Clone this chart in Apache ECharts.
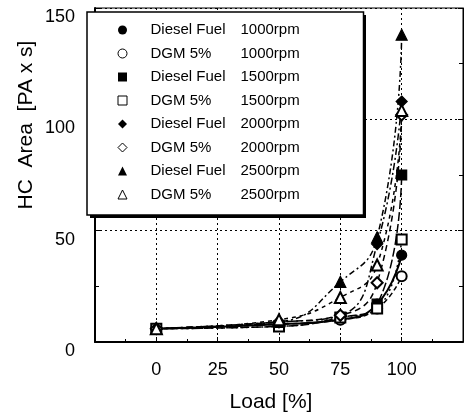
<!DOCTYPE html>
<html lang="en">
<head>
    <meta charset="UTF-8">
    <title>HC Area vs Load</title>
    <script src="https://cdn.jsdelivr.net/npm/echarts@6/dist/echarts.min.js"></script>
    <style>
        html, body { margin: 0; padding: 0; background: #fff; }
        #chart { width: 466px; height: 413px; }
    </style>
</head>
<body>
    <div id="chart"></div>
    <script>
        // load points [%]
        const loads = [0, 50, 75, 90, 100];
        // series names (legend)
        const seriesNames = [
            'Diesel Fuel 1000rpm', 'DGM 5% 1000rpm',
            'Diesel Fuel 1500rpm', 'DGM 5% 1500rpm',
            'Diesel Fuel 2000rpm', 'DGM 5% 2000rpm',
            'Diesel Fuel 2500rpm', 'DGM 5% 2500rpm'
        ];
        // HC area values
        const diesel1000 = [6, 8, 10, 17, 39];
        const dgm1000 = [6, 8, 10, 15, 29.5];
        const diesel1500 = [6, 7, 11, 17, 75];
        const dgm1500 = [6, 7, 11, 15, 46];
        const diesel2000 = [6, 9, 12, 44, 108];
        const dgm2000 = [6, 9, 12, 26.6, 102];
        const diesel2500 = [6, 9, 27, 47, 138];
        const dgm2500 = [6, 10, 20, 34.6, 104];
        const xTicks = [0, 25, 50, 75, 100];

        const values = [diesel1000, dgm1000, diesel1500, dgm1500, diesel2000, dgm2000, diesel2500, dgm2500];
        const symbols = ['circle', 'emptyCircle', 'rect', 'emptyRect', 'diamond', 'emptyDiamond', 'triangle', 'emptyTriangle'];
        const symbolSizes = [10, 10, 10, 10, 11, 11, 11, 11];
        const dashes = ['solid', [5, 3], [9, 3], [2, 3], [7, 3, 2, 3], [6, 4], [6, 3, 2, 3], [4, 4]];
        const widths = [2, 1.5, 1.5, 1.5, 1.5, 1.5, 1.5, 1.5];

        const font = '"Liberation Sans", Arial, Helvetica, sans-serif';
        const chart = echarts.init(document.getElementById('chart'));

        const series = seriesNames.map((name, i) => ({
            name: name,
            type: 'line',
            data: loads.map((x, j) => [x, values[i][j]]),
            symbol: symbols[i],
            symbolSize: symbolSizes[i],
            smooth: 0.5,
            itemStyle: { color: '#000', borderColor: '#000', borderWidth: 1.2 },
            lineStyle: { color: '#000', width: widths[i], type: dashes[i] },
            emphasis: { disabled: true }
        }));

        const legendData = seriesNames.map((name, i) => {
            const hollow = symbols[i].indexOf('empty') === 0;
            const base = hollow ? symbols[i].slice(5).toLowerCase() : symbols[i];
            return {
                name: name,
                icon: base,
                itemStyle: hollow
                    ? { color: '#fff', borderColor: '#000', borderWidth: 1 }
                    : { color: '#000', borderColor: '#000', borderWidth: 0 }
            };
        });

        const yAxisBase = {
            type: 'value',
            min: 0,
            max: 150,
            interval: 50,
            axisTick: { show: true, inside: true, length: 5, lineStyle: { color: '#000' } },
            minorTick: { show: true, splitNumber: 2, length: 4, lineStyle: { color: '#000' } }
        };

        const option = {
            animation: false,
            backgroundColor: '#fff',
            grid: {
                left: 95, right: 1, top: 8, bottom: 71,
                show: true, borderColor: '#000', borderWidth: 1
            },
            xAxis: {
                type: 'value',
                min: -25,
                max: 125,
                interval: 25,
                axisLine: { show: true, onZero: false, lineStyle: { color: '#000', width: 2 } },
                axisTick: { show: true, inside: true, length: 5, lineStyle: { color: '#000' } },
                minorTick: { show: true, splitNumber: 2, length: 3, lineStyle: { color: '#000' } },
                splitLine: { show: true, lineStyle: { color: '#000', type: [2, 3], width: 1 } },
                axisLabel: {
                    color: '#000', fontSize: 18, fontFamily: font, margin: 19,
                    formatter: v => (xTicks.indexOf(v) >= 0 ? String(v) : '')
                }
            },
            yAxis: [
                Object.assign({}, yAxisBase, {
                    position: 'left',
                    axisLine: { show: true, onZero: false, lineStyle: { color: '#000', width: 2 } },
                    splitLine: { show: true, lineStyle: { color: '#000', type: [2, 3], width: 1 } },
                    axisLabel: {
                        color: '#000', fontSize: 18, fontFamily: font, margin: 20,
                        verticalAlign: 'top'
                    }
                }),
                Object.assign({}, yAxisBase, {
                    position: 'right',
                    axisLine: { show: true, onZero: false, lineStyle: { color: '#000', width: 1 } },
                    splitLine: { show: false },
                    axisLabel: { show: false }
                })
            ],
            legend: {
                orient: 'vertical',
                left: 87,
                top: 12,
                z: 10,
                padding: [9.5, 61, 12, 30.5],
                itemWidth: 9,
                itemHeight: 9,
                itemGap: 6.5,
                selectedMode: false,
                backgroundColor: '#fff',
                borderColor: '#000',
                borderWidth: 1.5,
                borderRadius: 0,
                data: legendData,
                formatter: name => {
                    const k = name.lastIndexOf(' ');
                    return '{s| }{a|' + name.slice(0, k) + '}{b|' + name.slice(k + 1) + '}';
                },
                textStyle: {
                    color: '#000', fontSize: 15, fontFamily: font, lineHeight: 17,
                    rich: {
                        s: { width: 18.5, fontSize: 15, lineHeight: 17 },
                        a: { width: 90, color: '#000', fontSize: 15, fontFamily: font, lineHeight: 17 },
                        b: { width: 62, color: '#000', fontSize: 15, fontFamily: font, lineHeight: 17 }
                    }
                }
            },
            graphic: [
                {
                    // heavy drop edge behind the legend box
                    type: 'rect',
                    z: 9,
                    shape: { x: 90, y: 15, width: 276, height: 203 },
                    style: { fill: '#000' }
                },
                {
                    type: 'text',
                    x: 26,
                    y: 125,
                    rotation: Math.PI / 2,
                    style: {
                        text: 'HC  Area  [PA x s]',
                        font: '21px ' + font,
                        fill: '#000',
                        textAlign: 'center', textVerticalAlign: 'middle',
                        align: 'center', verticalAlign: 'middle'
                    }
                },
                {
                    type: 'text',
                    x: 271,
                    y: 402,
                    style: {
                        text: 'Load [%]',
                        font: '21px ' + font,
                        fill: '#000',
                        textAlign: 'center', textVerticalAlign: 'middle',
                        align: 'center', verticalAlign: 'middle'
                    }
                }
            ],
            series: series
        };

        chart.setOption(option);
    </script>
</body>
</html>
